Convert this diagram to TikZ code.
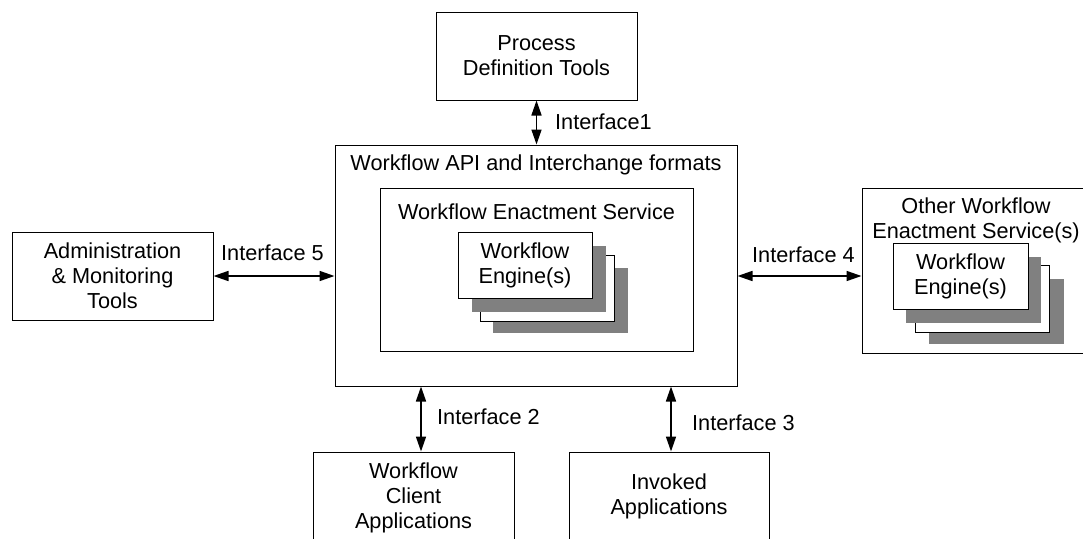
\documentclass[tikz,border=0pt]{standalone}
\usepackage{fontspec}
\setmainfont{Liberation Sans}
\usetikzlibrary{arrows.meta,positioning,calc}
\definecolor{shade}{RGB}{128,128,128}
\tikzset{
  box/.style={draw=black, line width=1pt, fill=white, inner sep=0pt, align=center, font=\fontsize{21.7}{25}\selectfont},
  lbl/.style={inner sep=0pt, anchor=west, font=\fontsize{21.7}{25}\selectfont},
  ttl/.style={inner sep=0pt, font=\fontsize{21.7}{25}\selectfont, align=center},
  arr/.style={line width=1.6pt, {Triangle[length=15pt,width=10pt]}-{Triangle[length=15pt,width=10pt]}},
  grayshadow/.style={fill=shade, draw=none},
}
\begin{document}
\begin{tikzpicture}[x=1pt,y=-1pt]
\useasboundingbox (0,0) rectangle (1083,538);
\clip (0,0) rectangle (1083,538);
% Process definition tools
\node[box, minimum width=201, minimum height=88] (pdt) at (536.5,56) {Process\\Definition Tools};
% Main box
\node[box, minimum width=402, minimum height=241] (main) at (536,265.5) {};
\node[ttl] (maint) at (536,165) {Workflow API and Interchange formats};
% Enactment service
\node[box, minimum width=313, minimum height=163] (wes) at (536.5,269.5) {};
\node[ttl] (west) at (536.5,212) {Workflow Enactment Service};
% left engine stack
\node[grayshadow, minimum width=135, minimum height=65, inner sep=0pt] (le3) at (560.5,300.5) {};
\node[box, minimum width=134, minimum height=66] (le2) at (547,288) {};
\node[grayshadow, minimum width=134, minimum height=66, inner sep=0pt] (le1) at (539,279) {};
\node[box, minimum width=134, minimum height=66] (le0) at (525,265) {Workflow\\Engine(s)};
% Admin
\node[box, minimum width=201, minimum height=88] (adm) at (112.5,276) {Administration\\\& Monitoring\\Tools};
% Other enactment services
\node[box, minimum width=240, minimum height=165] (oth) at (982,270.5) {};
\node[ttl] (otht) at (976,220.5) {Other Workflow\\Enactment Service(s)};
\node[grayshadow, minimum width=135, minimum height=65, inner sep=0pt] (re3) at (996.5,311.5) {};
\node[box, minimum width=134, minimum height=67] (re2) at (982,298.5) {};
\node[grayshadow, minimum width=135, minimum height=66, inner sep=0pt] (re1) at (973.5,290) {};
\node[box, minimum width=135, minimum height=66] (re0) at (960.5,276) {Workflow\\Engine(s)};
% bottom boxes
\node[box, minimum width=201, minimum height=92] (wca) at (413.5,498) {Workflow\\Client\\Applications};
\node[box, minimum width=200, minimum height=88] (inv) at (669,496) {Invoked\\Applications};
% connectors
\draw[arr] (pdt.south) -- (pdt.south |- main.north);
\draw[arr] (adm.east) -- (adm.east -| main.west);
\draw[arr] (main.east |- adm.east) -- (oth.west |- adm.east);
\draw[arr] ([xshift=7.5pt]main.south -| wca.north) -- ([xshift=7.5pt]wca.north);
\draw[arr] ([xshift=2pt]main.south -| inv.north) -- ([xshift=2pt]inv.north);
% labels
\node[lbl] (i1) at (555,122) {Interface1};
\node[lbl] (i5) at (221,253) {Interface 5};
\node[lbl] (i4) at (752,255) {Interface 4};
\node[lbl] (i2) at (437,417) {Interface 2};
\node[lbl] (i3) at (692,423) {Interface 3};
\end{tikzpicture}
\end{document}
